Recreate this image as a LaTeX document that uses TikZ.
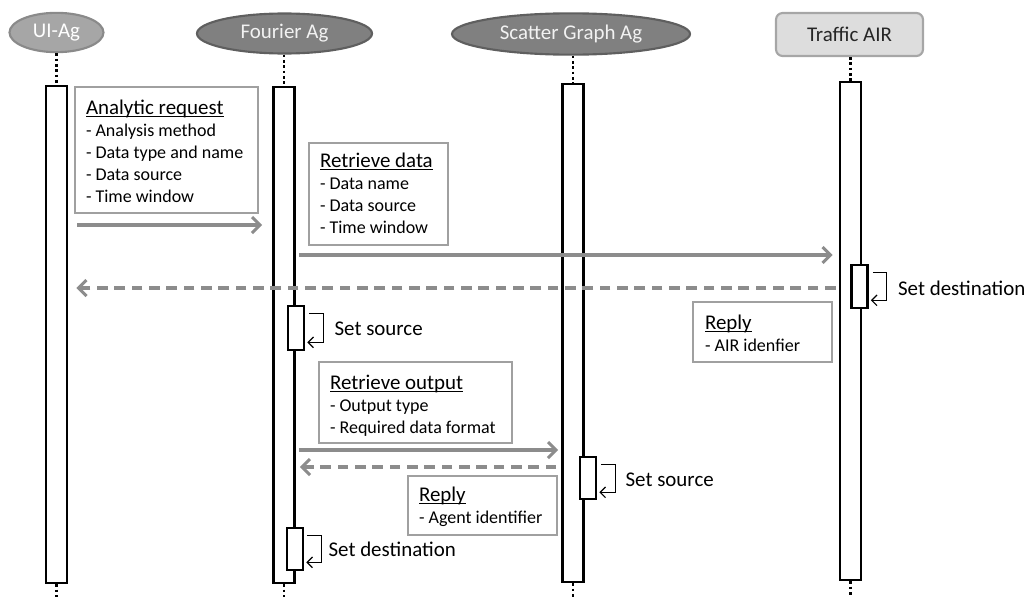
\documentclass[tikz,border=0pt]{standalone}
\usepackage{fontspec}
\setmainfont{Carlito}
\usetikzlibrary{shapes.geometric,arrows.meta,calc}
\definecolor{msggray}{HTML}{8C8C8C}
\definecolor{notegray}{HTML}{A0A0A0}
\definecolor{ellfill}{HTML}{808080}
\definecolor{ellline}{HTML}{5F5F5F}
\definecolor{uifill}{HTML}{A6A6A6}
\definecolor{uiline}{HTML}{8A8A8A}
\definecolor{airfill}{HTML}{DDDDDD}
\definecolor{airline}{HTML}{A6A6A6}
\newcommand\myul[1]{{\fontsize{15.7pt}{19pt}\selectfont\setbox0\hbox{#1}\rlap{\rule[-2.4pt]{\wd0}{0.9pt}}\box0}}
\tikzset{
  hdrfont/.style={font=\fontsize{15.7pt}{19pt}\selectfont},
  hdrell/.style={ellipse, draw=ellline, fill=ellfill, line width=1.6pt, text=white!95!black, inner sep=0pt, hdrfont},
  hdrelllight/.style={ellipse, draw=uiline, fill=uifill, line width=1.6pt, text=white, inner sep=0pt, hdrfont},
  hdrbox/.style={rectangle, rounded corners=5pt, draw=airline, fill=airfill, line width=1.6pt, text=black!85, inner sep=0pt, hdrfont},
  life/.style={rectangle, draw=black, fill=white, line width=2pt, minimum width=15.75pt, inner sep=0pt},
  act/.style={rectangle, draw=black, fill=white, line width=2pt, minimum width=12pt, inner sep=0pt},
  dotline/.style={draw=black, line width=2.2pt, dash pattern=on 2pt off 2pt},
  msg/.style={draw=msggray, line width=2.3pt, -{Straight Barb[length=6pt,width=12pt]}},
  rep/.style={msg, dash pattern=on 8pt off 5pt},
  selfloop/.style={draw=black, line width=0.9pt, -{Straight Barb[length=4pt,width=8pt]}},
  looplabel/.style={anchor=west, inner sep=0pt, font=\fontsize{15.7pt}{19pt}\selectfont},
  notebox/.style={rectangle, draw=notegray, line width=1.9pt, fill=white, inner sep=0pt},
  notetext/.style={anchor=west, align=left, inner sep=0pt, font=\fontsize{13.5pt}{16.5pt}\selectfont}
}
\begin{document}
\begin{tikzpicture}[x=0.75pt, y=-0.75pt]
\useasboundingbox (0,0) rectangle (1027,596);
\coordinate (bot) at (0,597);
% headers
\node[hdrelllight, minimum width=70.5pt, minimum height=29.5pt] (uiH) at (56.5,32.5) {UI-Ag};
\node[hdrell, minimum width=131.25pt, minimum height=30pt] (foH) at (284.5,33.5) {Fourier Ag};
\node[hdrell, minimum width=178.5pt, minimum height=31pt] (scH) at (571,34) {Scatter Graph Ag};
\node[hdrbox, minimum width=110.25pt, minimum height=32.25pt] (trH) at (849.5,34.5) {Traffic AIR};
% lifeline boxes
\node[life, minimum height=372.75pt] (ui) at (56.5,334.5) {};
\node[life, minimum height=372pt] (fo) at (284,335) {};
\node[life, minimum height=373.5pt] (sc) at (573,333) {};
\node[life, minimum height=373.5pt] (tr) at (850.5,331) {};
% dotted parts
\draw[dotline] (uiH.south) -- (ui.north);
\draw[dotline] (ui.south) -- (ui.south |- bot);
\draw[dotline] (foH.south -| fo.north) -- (fo.north);
\draw[dotline] (fo.south) -- (fo.south |- bot);
\draw[dotline] (scH.south -| sc.north) -- (sc.north);
\draw[dotline] (sc.south) -- (sc.south |- bot);
\draw[dotline] (trH.south -| tr.north) -- (tr.north);
\draw[dotline] (tr.south) -- (tr.south |- bot);
% activations
\node[act, minimum height=33pt] (fs) at (296,328) {};
\node[act, minimum height=32.25pt] (td) at (859.5,286.5) {};
\node[act, minimum height=31.5pt] (ss) at (588,478) {};
\node[act, minimum height=31.5pt] (fd) at (295,549) {};
% self loops
\draw[selfloop] ($(fs.north east)+(4,9)$) -- ++(14,0) |- ($(fs.south east)+(2,-9)$);
\draw[selfloop] ($(td.north east)+(4,9)$) -- ++(14,0) |- ($(td.south east)+(2,-9)$);
\draw[selfloop] ($(ss.north east)+(4,9)$) -- ++(14,0) |- ($(ss.south east)+(2,-8)$);
\draw[selfloop] ($(fd.north east)+(3,9)$) -- ++(14,0) |- ($(fd.south east)+(2,-9)$);
\node[looplabel] (fsl) at ($(fs.east)+(29,1)$) {Set source};
\node[looplabel] (tdl) at ($(td.east)+(29,2)$) {Set destination};
\node[looplabel] (ssl) at ($(ss.east)+(28,2)$) {Set source};
\node[looplabel] (fdl) at ($(fd.east)+(24,0)$) {Set destination};
% messages
\coordinate (y1) at (0,225);
\coordinate (y2) at (0,255);
\coordinate (y3) at (0,288);
\coordinate (y4) at (0,450);
\coordinate (y5) at (0,467);
\draw[msg] ($(ui.east|-y1)+(9,0)$) -- ($(fo.west|-y1)+(-10,0)$);
\draw[msg] ($(fo.east|-y2)+(3,0)$) -- ($(tr.west|-y2)+(-6,0)$);
\draw[rep] ($(tr.west|-y3)+(-3,0)$) -- ($(ui.east|-y3)+(8,0)$);
\draw[msg] ($(fo.east|-y4)+(3,0)$) -- ($(sc.west|-y4)+(-3,0)$);
\draw[rep] ($(sc.west|-y5)+(-5,0)$) -- ($(fo.east|-y5)+(4,0)$);
% notes
\node[notebox, minimum width=137.25pt, minimum height=94.5pt] (n1) at (166.5,150) {};
\node[notetext] (n1t) at ($(n1.west)+(12,1)$)
  {\myul{Analytic request}\\- Analysis method\\- Data type and name\\- Data source\\- Time window};
\node[notebox, minimum width=104.25pt, minimum height=76.5pt] (n2) at (378.5,194) {};
\node[notetext] (n2t) at ($(n2.west)+(12,-1)$)
  {\myul{Retrieve data}\\- Data name\\- Data source\\- Time window};
\node[notebox, minimum width=104.25pt, minimum height=45pt] (n3) at (762.5,332) {};
\node[notetext] (n3t) at ($(n3.west)+(13,1)$)
  {\myul{Reply}\\- AIR idenfier};
\node[notebox, minimum width=144.75pt, minimum height=60.75pt] (n4) at (415.5,402.5) {};
\node[notetext] (n4t) at ($(n4.west)+(12,3)$)
  {\myul{Retrieve output}\\- Output type\\- Required data format};
\node[notebox, minimum width=111.75pt, minimum height=44.25pt] (n5) at (482.5,505.5) {};
\node[notetext] (n5t) at ($(n5.west)+(12,1)$)
  {\myul{Reply}\\- Agent identifier};
\end{tikzpicture}
\end{document}
